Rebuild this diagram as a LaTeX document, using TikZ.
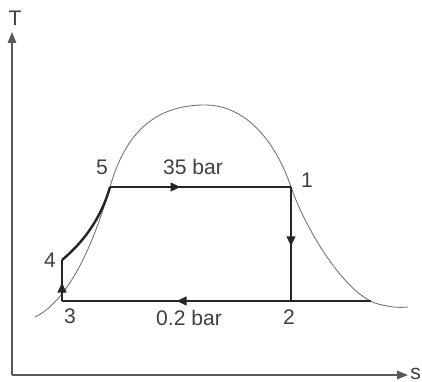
\documentclass[tikz,border=0pt]{standalone}
\usepackage{fontspec}
\setmainfont{Liberation Sans}
\usetikzlibrary{arrows.meta,decorations.markings}

\begin{document}
\begin{tikzpicture}[x=0.2mm, y=-0.2mm,
  axis/.style={draw=black!65, line width=0.8pt},
  dome/.style={draw=black!55, line width=0.5pt},
  proc/.style={draw=black!85, line width=1.4pt},
  mid/.style={postaction={decorate}, decoration={markings,
    mark=at position #1 with {\arrow{Triangle[length=2mm,width=1.7mm]}}}},
  lbl/.style={font=\fontsize{12}{14}\selectfont, text=black!75, inner sep=0pt}
]
\useasboundingbox (0,0) rectangle (422,382);

% axes
\coordinate (O) at (12,375);
\coordinate (Ttip) at (12,32);
\coordinate (stip) at (408,375);
\draw[axis, -{Triangle[length=2.2mm,width=1.7mm]}] (O) -- (Ttip);
\draw[axis, -{Triangle[length=2.2mm,width=1.7mm]}] (O) -- (stip);
\node[lbl] (tlab) at (15,18) {T};
\node[lbl, anchor=west] (slab) at (410,374) {s};

% saturation dome
\coordinate (dl) at (35,317);
\coordinate (top) at (205,105);
\coordinate (dr) at (378,304);
\coordinate (dt) at (408,307);
\draw[dome] (dl) .. controls (70,300) and (95,240) .. (110,187)
  .. controls (127,127) and (160,105) .. (top)
  .. controls (245,105) and (275,140) .. (291,187)
  .. controls (305,228) and (345,295) .. (dr)
  .. controls (390,307) and (398,308) .. (dt);

% cycle states
\coordinate (p1) at (291,187);
\coordinate (p2) at (291,301);
\coordinate (p3) at (62,301);
\coordinate (p4) at (62,260);
\coordinate (p5) at (110,187);
\coordinate (q2) at (371,301);

\draw[proc, mid=0.39] (p5) -- (p1);
\draw[proc, mid=0.52] (p1) -- (p2);
\draw[proc] (p2) -- (q2);
\draw[proc, mid=0.5] (p2) -- (p3);
\draw[proc, mid=0.45] (p3) -- (p4);
\draw[proc] (p4) .. controls (80,245) and (100,222) .. (p5);

% labels
\node[lbl] (l1) at (307,180) {1};
\node[lbl] (l2) at (289,317) {2};
\node[lbl] (l3) at (70,316) {3};
\node[lbl] (l4) at (50,260) {4};
\node[lbl] (l5) at (102,167) {5};
\node[lbl] (hi) at (193,167) {35 bar};
\node[lbl] (lo) at (189,318) {0.2 bar};
\end{tikzpicture}
\end{document}
